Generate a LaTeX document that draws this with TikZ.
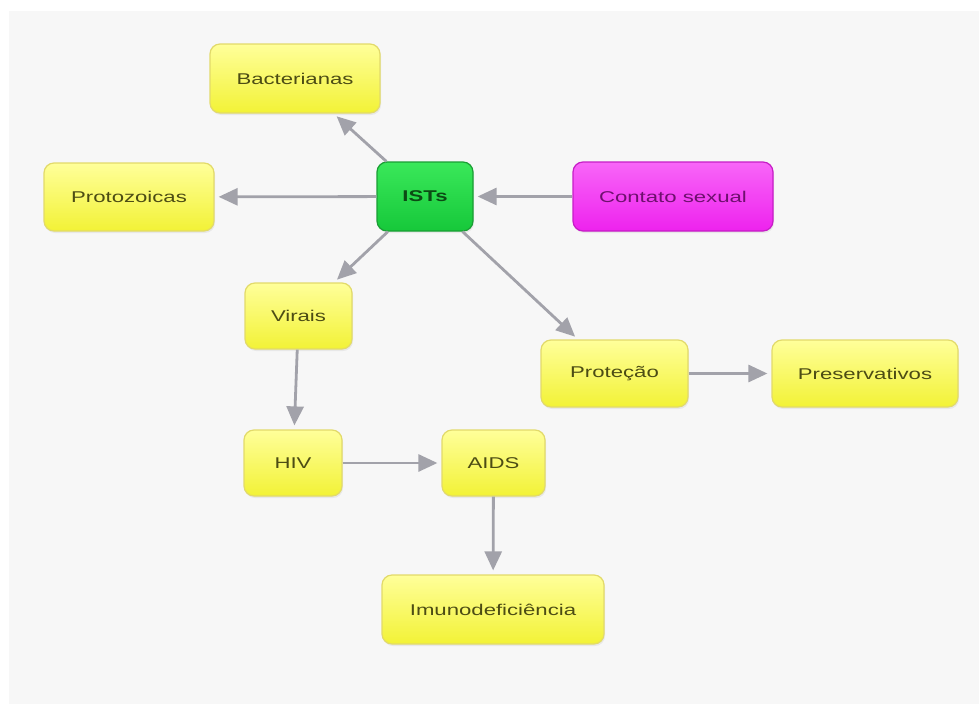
\documentclass[tikz,border=0pt]{standalone}
\usepackage{fontspec}
\setmainfont{Liberation Sans}[FakeStretch=1.42]
\usetikzlibrary{arrows.meta,shadows}
\definecolor{panel}{HTML}{F7F7F7}
\definecolor{ytop}{HTML}{FFFF9A}
\definecolor{ybot}{HTML}{F2F236}
\definecolor{ydraw}{HTML}{E2DA6A}
\definecolor{ytext}{HTML}{4C4C14}
\definecolor{gtop}{HTML}{3AE85A}
\definecolor{gbot}{HTML}{16C83A}
\definecolor{gdraw}{HTML}{1A9E34}
\definecolor{gtext}{HTML}{0C4A14}
\definecolor{mtop}{HTML}{F866F8}
\definecolor{mbot}{HTML}{EE22EE}
\definecolor{mdraw}{HTML}{C61EC6}
\definecolor{mtext}{HTML}{6E106E}
\definecolor{arrowgray}{HTML}{A2A2AA}
\tikzset{
  conceptbox/.style={rounded corners=10pt, line width=1.2pt, inner sep=0pt,
    font=\fontsize{15.6}{18}\selectfont,
    drop shadow={opacity=0.12, shadow xshift=1pt, shadow yshift=-2pt}},
  ybox/.style={conceptbox, draw=ydraw, top color=ytop, bottom color=ybot, text=ytext},
  gbox/.style={conceptbox, draw=gdraw, top color=gtop, bottom color=gbot, text=gtext, font=\fontsize{15.6}{18}\selectfont\bfseries},
  mbox/.style={conceptbox, draw=mdraw, top color=mtop, bottom color=mbot, text=mtext},
  link/.style={draw=arrowgray, line width=2.8pt, -{Triangle[length=19pt,width=17pt]}, shorten >=4pt}
}
\begin{document}
\begin{tikzpicture}[x=1pt,y=-1pt]
\useasboundingbox (0,0) rectangle (979,704);
\fill[white] (0,0) rectangle (979,704);
\fill[panel] (9,11) rectangle (979,704);

\node[ybox, minimum width=170pt, minimum height=69pt] (bact) at (295,78.5) {Bacterianas};
\node[ybox, minimum width=170pt, minimum height=68pt] (proto) at (129,197) {Protozoicas};
\node[gbox, minimum width=96pt, minimum height=69pt] (ists) at (425,196.5) {ISTs};
\node[mbox, minimum width=200pt, minimum height=69pt] (contato) at (673,196.5) {Contato sexual};
\node[ybox, minimum width=107pt, minimum height=66pt] (virais) at (298.5,316) {Virais};
\node[ybox, minimum width=147pt, minimum height=67pt] (protecao) at (614.5,373.5) {Proteção};
\node[ybox, minimum width=186pt, minimum height=67pt] (preserv) at (865,373.5) {Preservativos};
\node[ybox, minimum width=98pt, minimum height=66pt] (hiv) at (293,463) {HIV};
\node[ybox, minimum width=103pt, minimum height=66pt] (aids) at (493.5,463) {AIDS};
\node[ybox, minimum width=222pt, minimum height=69pt] (imuno) at (493,609.5) {Imunodeficiência};

\draw[link] (ists) -- (bact);
\draw[link] (ists) -- (proto);
\draw[link] (contato) -- (ists);
\draw[link] (ists) -- (virais);
\draw[link] (ists) -- (protecao);
\draw[link] (virais) -- (hiv);
\draw[link] (hiv) -- (aids);
\draw[link] (protecao) -- (preserv);
\draw[link] (aids) -- (imuno);
\end{tikzpicture}
\end{document}
